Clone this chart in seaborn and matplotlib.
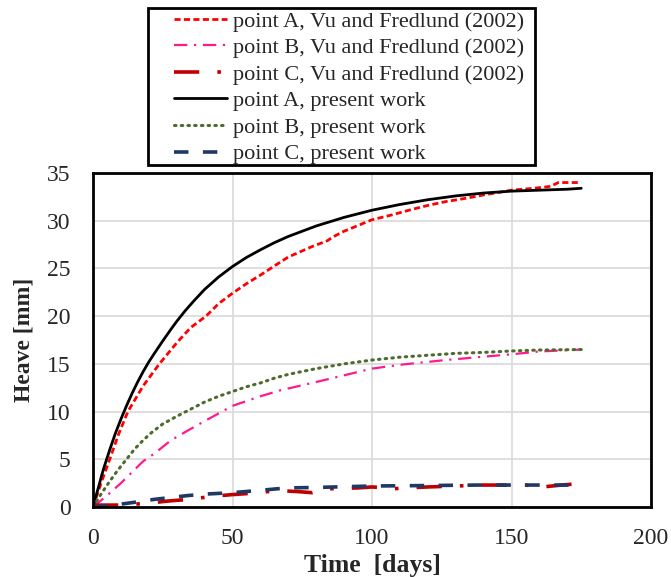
import numpy as np
import pandas as pd
import seaborn as sns
import matplotlib
matplotlib.use("Agg")
import matplotlib.pyplot as plt
from matplotlib.patches import Rectangle

sns.set_style("white")
plt.rcParams['font.family'] = ['Liberation Serif', 'DejaVu Serif']

# Data
a_vu_x = [0, 3, 6, 9, 12.5, 18, 23.8, 30, 35, 40.5, 45, 50, 55, 60, 66.8, 70, 78.6, 84, 86, 90, 100, 107, 114.5, 120, 126.4, 134.6, 140, 150, 158, 164, 166.8, 175]
a_vu_y = [0, 2.6, 5.0, 7.5, 10.0, 12.7, 15.0, 17.2, 18.8, 20.0, 21.3, 22.4, 23.4, 24.3, 25.6, 26.2, 27.3, 27.9, 28.3, 28.9, 30.1, 30.6, 31.2, 31.6, 32.0, 32.4, 32.7, 33.2, 33.4, 33.6, 34.0, 34.0]

b_vu_x = [0, 5, 10, 18, 22, 28, 33.9, 40, 50, 60, 66.8, 80, 90, 100, 110, 126.4, 138, 150, 160, 175]
b_vu_y = [0, 1.2, 2.5, 4.8, 5.6, 7.0, 8.0, 9.0, 10.6, 11.6, 12.2, 13.1, 13.8, 14.5, 14.9, 15.4, 15.7, 16.0, 16.3, 16.5]

c_vu_x = [0, 10, 15, 20, 26, 30, 35, 42, 50, 55, 62, 68, 74, 78.6, 84, 95, 100, 105, 107, 112, 120, 130, 140, 150, 155, 161, 168, 172]
c_vu_y = [0.2, 0.2, 0.3, 0.4, 0.6, 0.7, 0.8, 1.1, 1.3, 1.4, 1.6, 1.7, 1.6, 1.5, 1.9, 2.0, 2.1, 2.0, 1.9, 2.0, 2.1, 2.2, 2.3, 2.3, 2.3, 2.1, 2.3, 2.4]

a_pw_x = [0, 1, 2, 3, 4, 5, 6, 8, 10, 12, 14, 16, 18, 20, 22, 25, 28, 30, 33, 36, 40, 45, 50, 55, 60, 65, 70, 80, 90, 100, 110, 120, 130, 140, 150, 160, 170, 175]
a_pw_y = [0, 1.1, 2.1, 3.2, 4.2, 5.1, 6.0, 7.7, 9.2, 10.6, 11.9, 13.1, 14.2, 15.2, 16.1, 17.4, 18.65, 19.45, 20.55, 21.55, 22.8, 24.1, 25.2, 26.15, 26.95, 27.7, 28.35, 29.45, 30.35, 31.1, 31.7, 32.2, 32.6, 32.9, 33.1, 33.2, 33.3, 33.4]

b_pw_x = [0, 3, 6, 9, 12, 15, 18, 21, 25, 30, 34, 40, 45, 50, 55, 60, 65, 70, 80, 90, 100, 110, 120, 130, 140, 150, 160, 175]
b_pw_y = [0, 1.4, 2.7, 3.9, 5.0, 6.1, 7.0, 7.8, 8.7, 9.5, 10.1, 11.0, 11.6, 12.1, 12.6, 13.0, 13.5, 13.9, 14.5, 15.0, 15.4, 15.7, 15.9, 16.1, 16.2, 16.35, 16.45, 16.5]

c_pw_x = [0, 5, 10, 15, 22, 34, 40, 50, 60, 69.6, 80, 100, 120, 138, 150, 175]
c_pw_y = [0, 0.1, 0.3, 0.5, 0.8, 1.2, 1.35, 1.5, 1.75, 2.0, 2.05, 2.2, 2.25, 2.3, 2.3, 2.3]

labels = ["point A, Vu and Fredlund (2002)",
          "point B, Vu and Fredlund (2002)",
          "point C, Vu and Fredlund (2002)",
          "point A, present work",
          "point B, present work",
          "point C, present work"]

series = [(a_vu_x, a_vu_y), (b_vu_x, b_vu_y), (c_vu_x, c_vu_y),
          (a_pw_x, a_pw_y), (b_pw_x, b_pw_y), (c_pw_x, c_pw_y)]

styles = [
    dict(color="#FF0000", lw=2.0, dashes=(2.2, 1.2), cap="butt"),
    dict(color="#FF1A8C", lw=1.6, dashes=(6, 3, 1, 3), cap="butt"),
    dict(color="#C00000", lw=2.6, dashes=(7, 5, 1, 5), cap="butt"),
    dict(color="#000000", lw=2.0, dashes=None, cap="butt"),
    dict(color="#4E6B2E", lw=2.2, dashes=(0.5, 1.7), cap="round"),
    dict(color="#1F3864", lw=2.6, dashes=(4, 4), cap="butt"),
]

fig = plt.figure(figsize=(6.71, 5.77), dpi=100)
ax = fig.add_axes([93/671, (577-507)/577, 558/671, 334/577])

for (x, y), lab, st in zip(series, labels, styles):
    df = pd.DataFrame({"x": x, "y": y})
    sns.lineplot(data=df, x="x", y="y", ax=ax, label=lab, color=st["color"], lw=st["lw"])
    line = ax.get_lines()[-1]
    if st["dashes"] is not None:
        line.set_dashes(st["dashes"])
    line.set_dash_capstyle(st["cap"])
    line.set_solid_joinstyle("round")

ax.set_xlim(0, 200)
ax.set_ylim(0, 35)
ax.set_xticks([0, 50, 100, 150, 200])
ax.set_yticks([0, 5, 10, 15, 20, 25, 30, 35])
ax.grid(True, color="#D9D9D9", lw=1.2)
ax.set_axisbelow(True)
for s in ax.spines.values():
    s.set_color("black")
    s.set_linewidth(2)
ax.tick_params(axis="both", length=0, labelsize=17)
ax.tick_params(axis="x", pad=15)
ax.tick_params(axis="y", pad=16)
ax.set_xlabel("Time  [days]", fontsize=18.5, fontweight="bold", labelpad=4)
ax.set_ylabel("Heave [mm]", fontsize=17, fontweight="bold", labelpad=9)

handles, labs = ax.get_legend_handles_labels()
ax.get_legend().remove()
leg = fig.legend(handles, labs, loc="upper left", bbox_to_anchor=(174/671, 1 - 11/577),
                 fontsize=16, frameon=False,
                 handlelength=2.4, handletextpad=0.25, labelspacing=0.27,
                 borderpad=0, borderaxespad=0)
fig.patches.append(Rectangle((148/671, 1 - 165/577), 387/671, 157/577,
                             transform=fig.transFigure, fill=False,
                             edgecolor="black", lw=2))

fig.savefig("out.png", dpi=100)
